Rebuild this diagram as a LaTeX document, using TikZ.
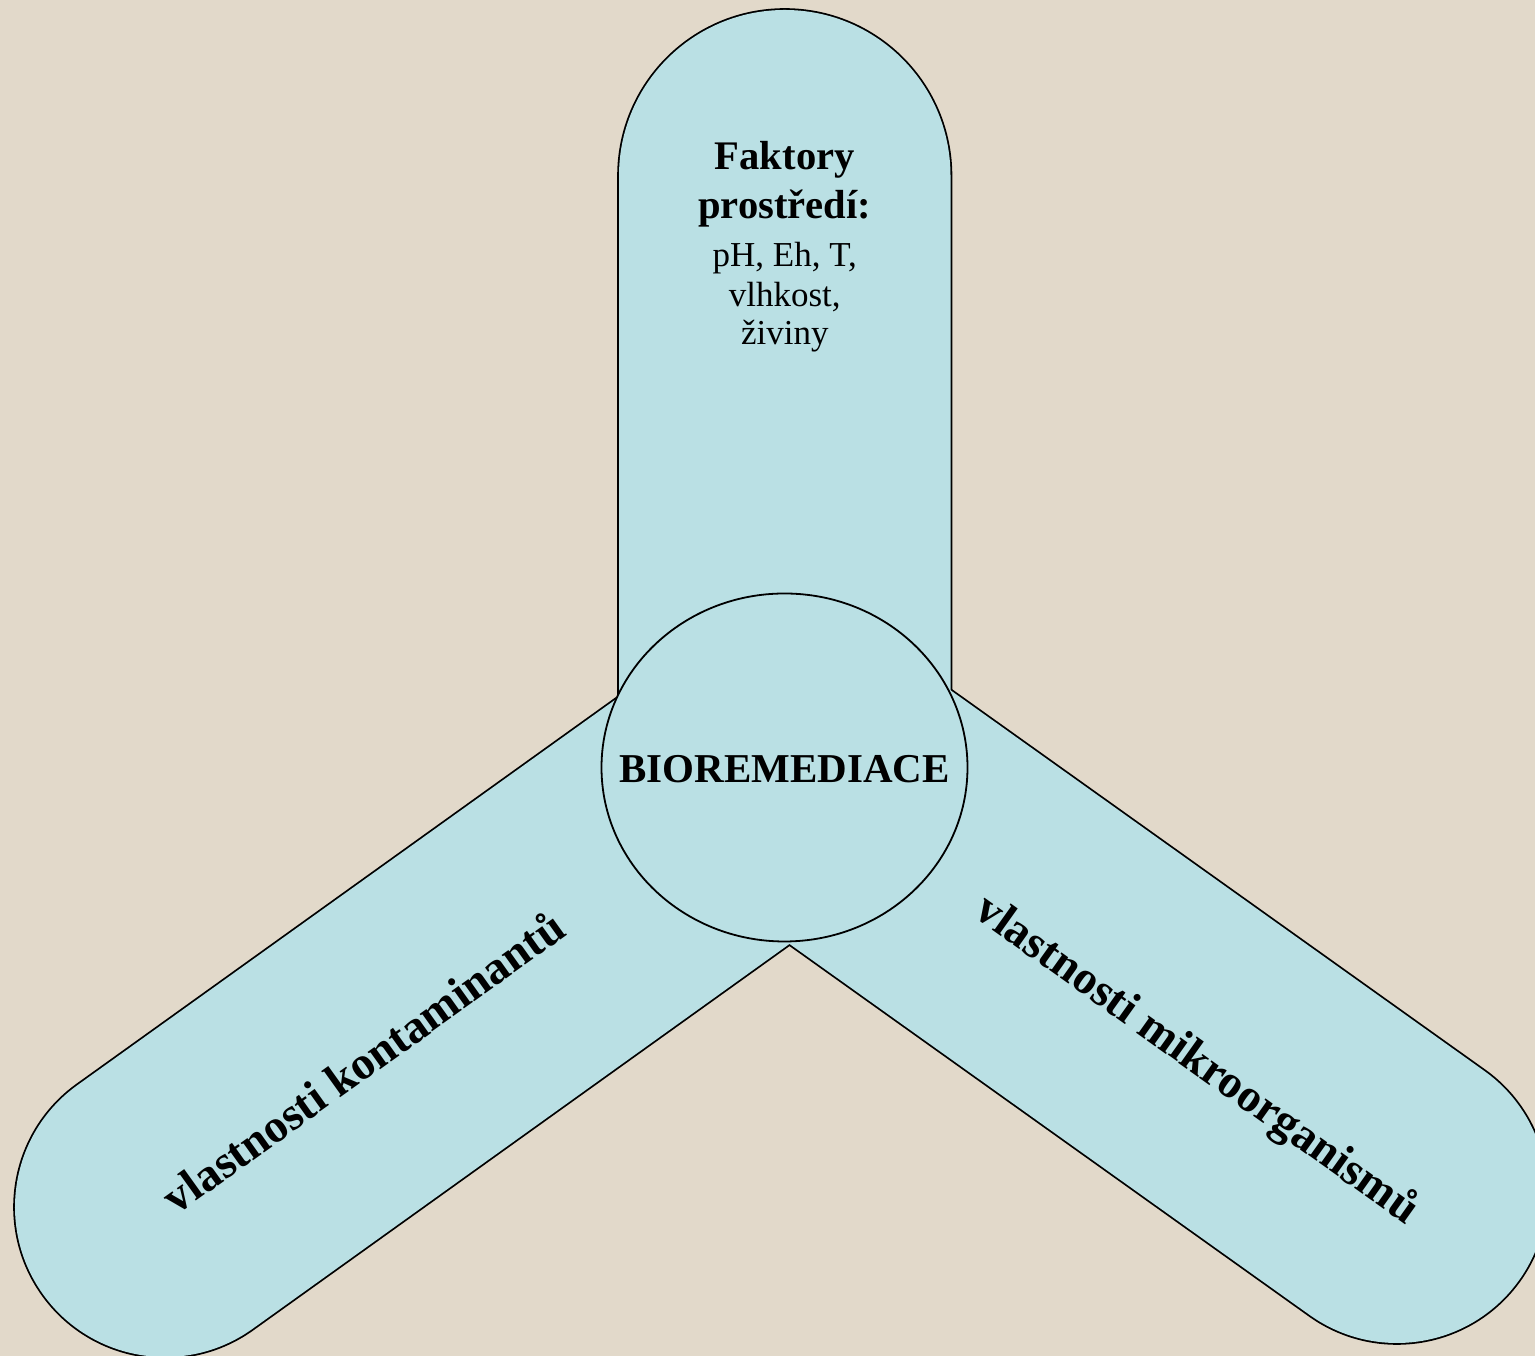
\documentclass[tikz,border=0pt]{standalone}
\usepackage{fontspec}
\setmainfont{Liberation Serif}
\definecolor{bgbeige}{HTML}{E2D9CA}
\definecolor{armblue}{HTML}{BAE0E4}
\tikzset{
  armout/.style={draw=black, line width=3.6pt, line join=round},
  armfill/.style={fill=armblue, draw=none},
  hub/.style={fill=armblue, draw=black, line width=1.8pt},
  headtxt/.style={font=\fontsize{40.6}{48}\selectfont\bfseries, anchor=base, inner sep=0pt},
  bodytxt/.style={font=\fontsize{35}{40}\selectfont, anchor=base, inner sep=0pt},
  armtxt/.style={font=\fontsize{46.5}{52}\selectfont\bfseries, anchor=base, inner sep=0pt},
  hubtxt/.style={font=\fontsize{41}{48}\selectfont\bfseries, anchor=base, inner sep=0pt}
}
\begin{document}
\begin{tikzpicture}[x=1pt,y=1pt]
\useasboundingbox (0,0) rectangle (1535,1356);
\fill[bgbeige] (0,0) rectangle (1535,1356);
\clip (0,0) rectangle (1535,1356);
% arm shapes
\def\toparm{(619,588) -- (619,1180.25) arc[start angle=180, end angle=0, radius=165.75] -- (950.5,588) -- cycle}
\def\sidearm{(0,-150) -- (765,-150) -- (765,150) -- (0,150) arc[start angle=90, end angle=270, radius=150] -- cycle}
% outlines (double width, inner half covered by fills)
\path[armout] \toparm;
\begin{scope}[shift={(165,149)}, rotate=35.63]
  \path[armout] \sidearm;
\end{scope}
\begin{scope}[shift={(1397,163)}, rotate=144.5]
  \path[armout] \sidearm;
\end{scope}
% fills
\path[armfill] \toparm;
\begin{scope}[shift={(165,149)}, rotate=35.63]
  \path[armfill] \sidearm;
\end{scope}
\begin{scope}[shift={(1397,163)}, rotate=144.5]
  \path[armfill] \sidearm;
\end{scope}
% hub
\path[hub] (784.5,588.5) ellipse[x radius=183, y radius=174];
\node[hubtxt] (hubl) at (784.7,573.3) {BIOREMEDIACE};
% top texts
\node[headtxt] (t1) at (784.75,1186) {Faktory};
\node[headtxt] (t2) at (784.75,1137.7) {prostředí:};
\node[bodytxt] (t3) at (784.75,1089.3) {pH, Eh, T,};
\node[bodytxt] (t4) at (784.75,1049.3) {vlhkost,};
\node[bodytxt] (t5) at (784.75,1011) {živiny};
% arm texts
\node[armtxt, rotate=35.6] (lt) at (372.6,281) {vlastnosti kontaminantů};
\node[armtxt, rotate=-35.5] (rt) at (1189.3,285.4) {vlastnosti mikroorganismů};
\end{tikzpicture}
\end{document}
